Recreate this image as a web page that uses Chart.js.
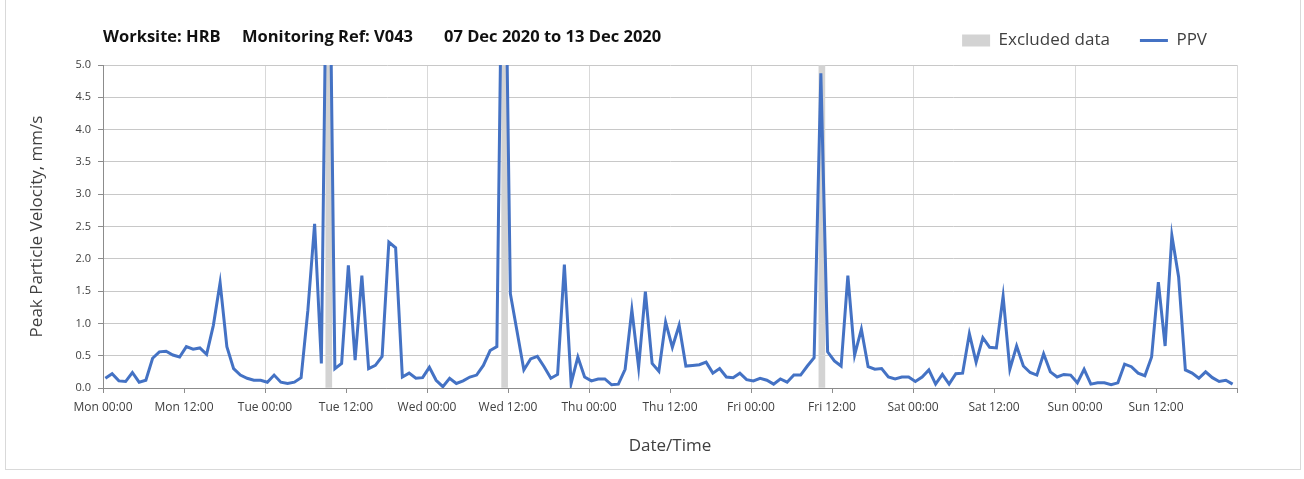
<!DOCTYPE html>
<html>
<head>
<meta charset="utf-8">
<script src="https://cdn.jsdelivr.net/npm/chart.js@4.4.1/dist/chart.umd.min.js"></script>
<style>
    html, body { margin: 0; padding: 0; background: #fff; }
    #wrap { position: relative; width: 1304px; height: 479px; }
    #frame { position: absolute; left: 5px; top: -1px; width: 1294px; height: 469px; border: 1px solid #d9d9d9; }
    .ttl { position: absolute; top: 24px; font: bold 16.5px "Open Sans", sans-serif; color: #111; white-space: nowrap; }
    canvas { position: absolute; left: 0; top: 0; }
</style>
</head>
<body>
<div id="wrap">
    <div id="frame"></div>
    <canvas id="ppvChart" width="1304" height="479"></canvas>
    <span class="ttl" style="left:103px">Worksite: HRB</span>
    <span class="ttl" style="left:242px">Monitoring Ref: V043</span>
    <span class="ttl" style="left:444px">07 Dec 2020 to 13 Dec 2020</span>
</div>
<script>
/**
 * PPV weekly chart
 */

// hours since Mon 00:00 of the first hourly sample
const firstSampleHour = 0.35;

// hourly peak particle velocity, mm/s
const ppvMon = [0.15, 0.22, 0.11, 0.10, 0.24, 0.09, 0.12, 0.46, 0.56, 0.57, 0.51, 0.48,
    0.64, 0.60, 0.62, 0.52, 0.97, 1.63, 0.64, 0.30, 0.20, 0.15, 0.12, 0.12];
const ppvTue = [0.09, 0.20, 0.09, 0.07, 0.09, 0.16, 1.20, 2.54, 0.38, 9.00, 0.30, 0.38,
    1.90, 0.43, 1.74, 0.30, 0.35, 0.49, 2.26, 2.17, 0.17, 0.23, 0.15, 0.16];
const ppvWed = [0.32, 0.12, 0.02, 0.15, 0.07, 0.11, 0.17, 0.20, 0.35, 0.58, 0.64, 9.00,
    1.46, 0.87, 0.28, 0.45, 0.49, 0.33, 0.15, 0.21, 1.91, 0.07, 0.48, 0.17];
const ppvThu = [0.11, 0.14, 0.14, 0.05, 0.06, 0.29, 1.21, 0.32, 1.49, 0.38, 0.26, 1.02,
    0.63, 0.97, 0.34, 0.35, 0.36, 0.40, 0.23, 0.30, 0.17, 0.16, 0.23, 0.13];
const ppvFri = [0.11, 0.15, 0.12, 0.06, 0.14, 0.09, 0.20, 0.20, 0.34, 0.47, 4.87, 0.56,
    0.42, 0.34, 1.74, 0.51, 0.91, 0.33, 0.29, 0.30, 0.17, 0.14, 0.17, 0.17];
const ppvSat = [0.10, 0.17, 0.28, 0.06, 0.21, 0.06, 0.22, 0.23, 0.84, 0.40, 0.78, 0.63,
    0.62, 1.42, 0.29, 0.65, 0.34, 0.24, 0.20, 0.53, 0.25, 0.17, 0.21, 0.20];
const ppvSun = [0.08, 0.29, 0.06, 0.08, 0.08, 0.05, 0.08, 0.37, 0.33, 0.23, 0.19, 0.48,
    1.64, 0.65, 2.36, 1.72, 0.28, 0.23, 0.15, 0.25, 0.16, 0.10, 0.12, 0.06];

// excluded data periods (hours since Mon 00:00)
const excludedHours = [33.45, 59.5, 106.5];

// x tick labels, one every 12 hours
const xTickLabels = ['Mon 00:00', 'Mon 12:00', 'Tue 00:00', 'Tue 12:00', 'Wed 00:00', 'Wed 12:00',
    'Thu 00:00', 'Thu 12:00', 'Fri 00:00', 'Fri 12:00', 'Sat 00:00', 'Sat 12:00', 'Sun 00:00', 'Sun 12:00', ''];

const ppvValues = [...ppvMon, ...ppvTue, ...ppvWed, ...ppvThu, ...ppvFri, ...ppvSat, ...ppvSun];
const ppvPoints = ppvValues.map((v, i) => ({ x: firstSampleHour + i, y: v }));
const excludedPoints = excludedHours.map(h => ({ x: h, y: 5 }));

const FONT = '"Open Sans", sans-serif';
const TEXT = '#404040';
const AXIS = '#8c8c8c';

// give the legend row some extra room below it
const legendGap = {
    id: 'legendGap',
    beforeInit(chart) {
        const fit = chart.legend.fit;
        chart.legend.fit = function () {
            fit.call(this);
            this.height += 6;
        };
    }
};

document.addEventListener('DOMContentLoaded', () => {
    const ctx = document.getElementById('ppvChart').getContext('2d');

    new Chart(ctx, {
        data: {
            datasets: [{
                type: 'bar',
                label: 'Excluded data',
                data: excludedPoints,
                backgroundColor: '#d3d3d3',
                borderWidth: 0,
                barThickness: 6,
                order: 1
            }, {
                type: 'line',
                label: 'PPV',
                data: ppvPoints,
                borderColor: '#4472c4',
                backgroundColor: '#4472c4',
                borderWidth: 3,
                pointRadius: 0,
                pointStyle: 'line',
                tension: 0,
                order: 0
            }]
        },
        plugins: [legendGap],
        options: {
            responsive: false,
            animation: false,
            layout: { padding: { top: 2, left: 23, right: 67, bottom: 19 } },
            plugins: {
                tooltip: { enabled: false },
                legend: {
                    position: 'top',
                    align: 'end',
                    labels: {
                        font: { family: FONT, size: 17 },
                        color: TEXT,
                        usePointStyle: true,
                        pointStyleWidth: 28,
                        boxHeight: 12,
                        padding: 30,
                        sort: (a, b) => a.datasetIndex - b.datasetIndex,
                        generateLabels: (chart) => {
                            const items = Chart.defaults.plugins.legend.labels.generateLabels(chart);
                            items.forEach(it => {
                                if (it.datasetIndex === 0) {
                                    it.pointStyle = 'rect';
                                    it.lineWidth = 0;
                                    it.strokeStyle = '#d3d3d3';
                                } else {
                                    it.pointStyle = 'line';
                                    it.lineWidth = 3;
                                }
                            });
                            return items;
                        }
                    }
                }
            },
            scales: {
                x: {
                    type: 'linear',
                    min: 0,
                    max: 168,
                    offset: false,
                    afterFit: (scale) => { scale.height = 72; },
                    ticks: {
                        stepSize: 12,
                        autoSkip: false,
                        maxRotation: 0,
                        padding: 7,
                        color: TEXT,
                        font: { family: FONT, size: 12 },
                        callback: (v) => xTickLabels[Math.round(v / 12)] ?? ''
                    },
                    grid: {
                        offset: false,
                        color: (c) => (c.tick && c.tick.value % 24 === 0) ? '#d9d9d9' : 'rgba(0,0,0,0)',
                        tickColor: AXIS,
                        tickLength: 5
                    },
                    border: { color: AXIS },
                    title: {
                        display: true,
                        text: 'Date/Time',
                        color: TEXT,
                        font: { family: FONT, size: 17 }
                    }
                },
                y: {
                    min: 0,
                    max: 5,
                    afterFit: (scale) => { scale.width = 80; },
                    ticks: {
                        stepSize: 0.5,
                        padding: 7,
                        color: TEXT,
                        font: { family: FONT, size: 11 },
                        callback: (v) => v.toFixed(1)
                    },
                    grid: {
                        color: '#c8c8c8',
                        tickColor: AXIS,
                        tickLength: 5
                    },
                    border: { color: AXIS },
                    title: {
                        display: true,
                        text: 'Peak Particle Velocity, mm/s',
                        color: TEXT,
                        font: { family: FONT, size: 17 }
                    }
                }
            }
        }
    });
});
</script>
</body>
</html>
